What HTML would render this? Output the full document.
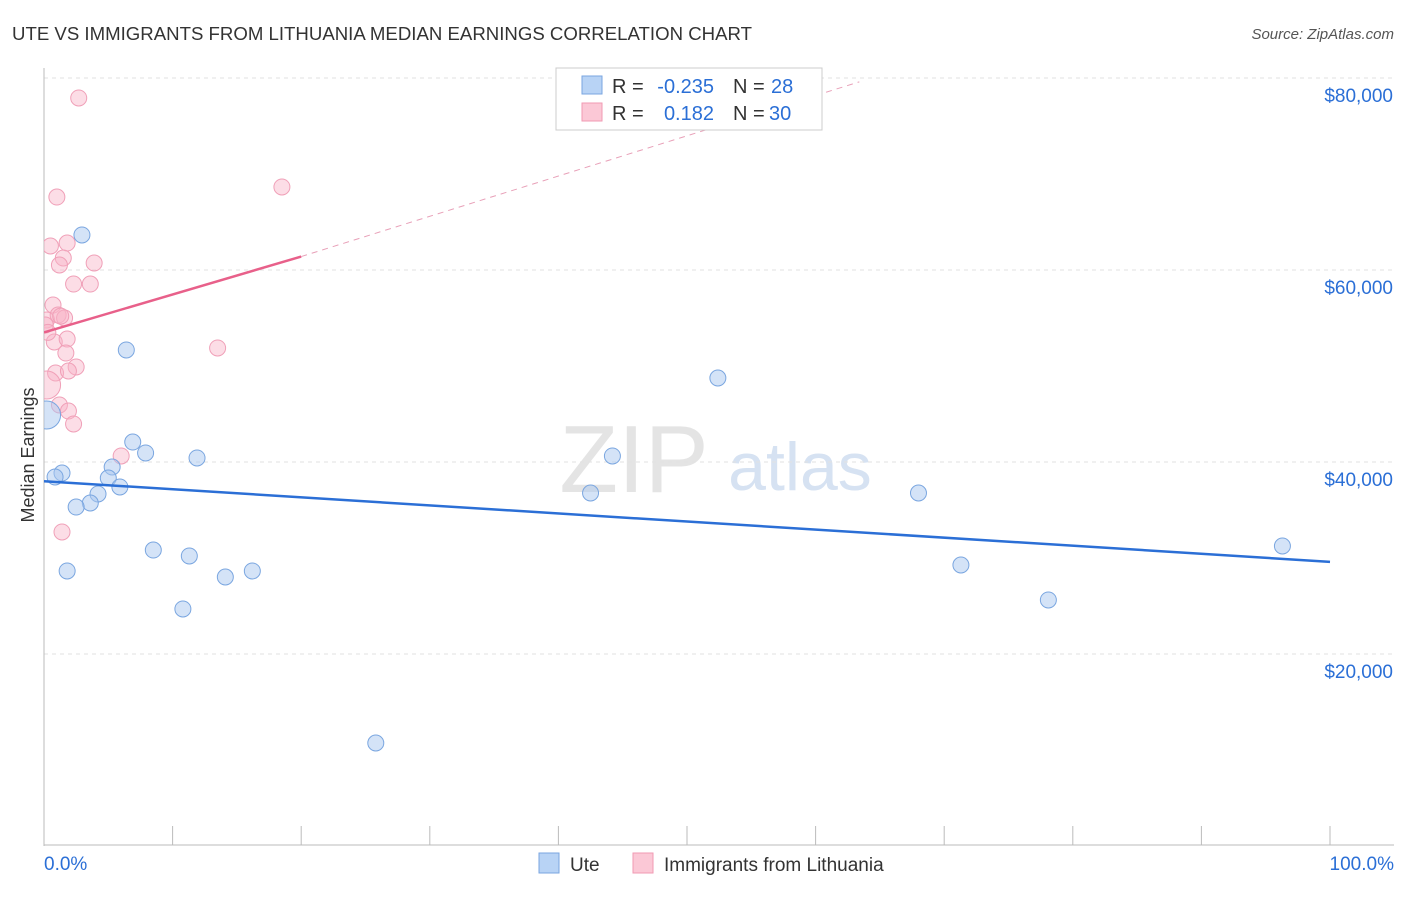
<!DOCTYPE html>
<html><head><meta charset="utf-8"><style>
body{margin:0;background:#fff;font-family:"Liberation Sans",sans-serif;}
svg text{font-family:"Liberation Sans",sans-serif;}
</style></head><body>
<svg id="chart" width="1406" height="892">
<defs><clipPath id="plotclip"><rect x="44" y="60" width="1360" height="786"/></clipPath></defs>
<text x="12" y="40" font-size="18" fill="#333" textLength="740" lengthAdjust="spacingAndGlyphs">UTE VS IMMIGRANTS FROM LITHUANIA MEDIAN EARNINGS CORRELATION CHART</text>
<text x="1394" y="39" font-size="15" fill="#555" font-style="italic" text-anchor="end">Source: ZipAtlas.com</text>
<text x="634" y="492" font-size="96" fill="#e4e4e4" font-family="Liberation Serif" text-anchor="middle">ZIP</text>
<text x="800" y="490" font-size="68" fill="#d6e2f2" text-anchor="middle">atlas</text>
<text transform="translate(34,455) rotate(-90)" font-size="18" fill="#333" text-anchor="middle">Median Earnings</text>
<g id="grid"></g><g id="marks" clip-path="url(#plotclip)"></g>
<g>
<rect x="556" y="68" width="266" height="62" fill="#fff" stroke="#ccc"/>
<rect x="582" y="76" width="20" height="18" fill="#b8d3f5" stroke="#7aa6e0"/>
<text x="612" y="93" font-size="20" fill="#333">R =</text>
<text x="714" y="93" font-size="20" fill="#2b6fd6" text-anchor="end">-0.235</text>
<text x="733" y="93" font-size="20" fill="#333">N =</text>
<text x="771" y="93" font-size="20" fill="#2b6fd6">28</text>
<rect x="582" y="103" width="20" height="18" fill="#fbc8d6" stroke="#f09ab3"/>
<text x="612" y="120" font-size="20" fill="#333">R =</text>
<text x="714" y="120" font-size="20" fill="#2b6fd6" text-anchor="end">0.182</text>
<text x="733" y="120" font-size="20" fill="#333">N =</text>
<text x="769" y="120" font-size="20" fill="#2b6fd6">30</text>
</g>
<g>
<rect x="539" y="853" width="20" height="20" fill="#b8d3f5" stroke="#7aa6e0"/>
<text x="570" y="871" font-size="19" fill="#333">Ute</text>
<rect x="633" y="853" width="20" height="20" fill="#fbc8d6" stroke="#f09ab3"/>
<text x="664" y="871" font-size="19" fill="#333">Immigrants from Lithuania</text>
</g>
<text x="44" y="870" font-size="19" fill="#2b6fd6">0.0%</text>
<text x="1394" y="870" font-size="19" fill="#2b6fd6" text-anchor="end">100.0%</text>
</svg>
<script>
const yTicks=[20000,40000,60000,80000];
const yTickLabels=["$20,000","$40,000","$60,000","$80,000"];
const uteX=[2.95,6.4,0.2,1.4,0.86,6.9,7.9,5.3,5.0,5.9,4.2,3.6,2.5,11.9,8.5,11.3,1.8,14.1,16.2,10.8,25.8,44.2,42.5,52.4,68.0,71.3,78.1,96.3];
const uteY=[63650,51670,44900,38850,38440,42080,40940,39480,38330,37400,36670,35730,35310,40420,30830,30210,28650,28020,28650,24690,10730,40630,36770,48750,36770,29270,25630,31250];
const litX=[2.7,1.0,18.5,0.5,1.8,1.5,1.2,3.9,2.3,3.6,0.7,0.2,1.1,1.6,0.8,1.8,1.7,13.5,2.5,0.9,1.9,0.2,1.2,1.9,2.3,6.0,1.4,0.1,0.3,1.3];
const litY=[77920,67600,68650,62500,62810,61250,60520,60730,58540,58540,56350,54790,55310,55000,52500,52810,51350,51880,49900,49270,49480,48020,45940,45310,43960,40630,32710,54270,53500,55200];
const uteTrend=[38000,29600];
const litTrend=[53500,61400,79600];
const litTrendX=[0,20,63.4];
const NS="http://www.w3.org/2000/svg";
const X=p=>44+p*12.86, Y=v=>846-v*192/20000;
function mk(t,a,parent){const e=document.createElementNS(NS,t);for(const k in a)e.setAttribute(k,a[k]);parent.appendChild(e);return e;}
const g=document.getElementById('grid'), m=document.getElementById('marks');
yTicks.forEach((v,i)=>{
 const l=mk('line',{x1:44,x2:1394,y1:Y(v),y2:Y(v),stroke:'#e2e2e2','stroke-dasharray':'4,4'},g);
 
 
 const t=mk('text',{x:1393,y:Y(v)+24,'font-size':19,fill:'#2b6fd6','text-anchor':'end'},g);t.textContent=yTickLabels[i];
 
 
});
const ax=mk('line',{x1:44,x2:44,y1:68,y2:846,stroke:'#bbb'},g);


const bx=mk('line',{x1:44,x2:1394,y1:845,y2:845,stroke:'#bbb'},g);


for(let i=0;i<=10;i++){const tk=mk('line',{x1:X(i*10),x2:X(i*10),y1:826,y2:845,stroke:'#bbb'},g);
 
 }
litX.forEach((x,i)=>{const big=(x<=0.2&&Math.abs(litY[i]-48020)<10);
 const c=mk('circle',{cx:X(x),cy:Y(litY[i]),r:big?14:8,fill:'rgba(248,180,200,0.45)',stroke:'#f0a0b8','stroke-width':1},m);
 
 });
uteX.forEach((x,i)=>{const big=(i===2);
 const c=mk('circle',{cx:X(x),cy:Y(uteY[i]),r:big?14:8,fill:'rgba(170,200,240,0.5)',stroke:'#7aa6e0','stroke-width':1},m);
 
 });
const ul=mk('line',{x1:X(0),y1:Y(uteTrend[0]),x2:X(100),y2:Y(uteTrend[1]),stroke:'#2b6fd6','stroke-width':2.5},m);


const pl=mk('line',{x1:X(litTrendX[0]),y1:Y(litTrend[0]),x2:X(litTrendX[1]),y2:Y(litTrend[1]),stroke:'#e8608a','stroke-width':2.5},m);


const pd=mk('line',{x1:X(litTrendX[1]),y1:Y(litTrend[1]),x2:X(litTrendX[2]),y2:Y(litTrend[2]),stroke:'#e8a0b8','stroke-width':1,'stroke-dasharray':'6,5'},m);


</script>
</body></html>
